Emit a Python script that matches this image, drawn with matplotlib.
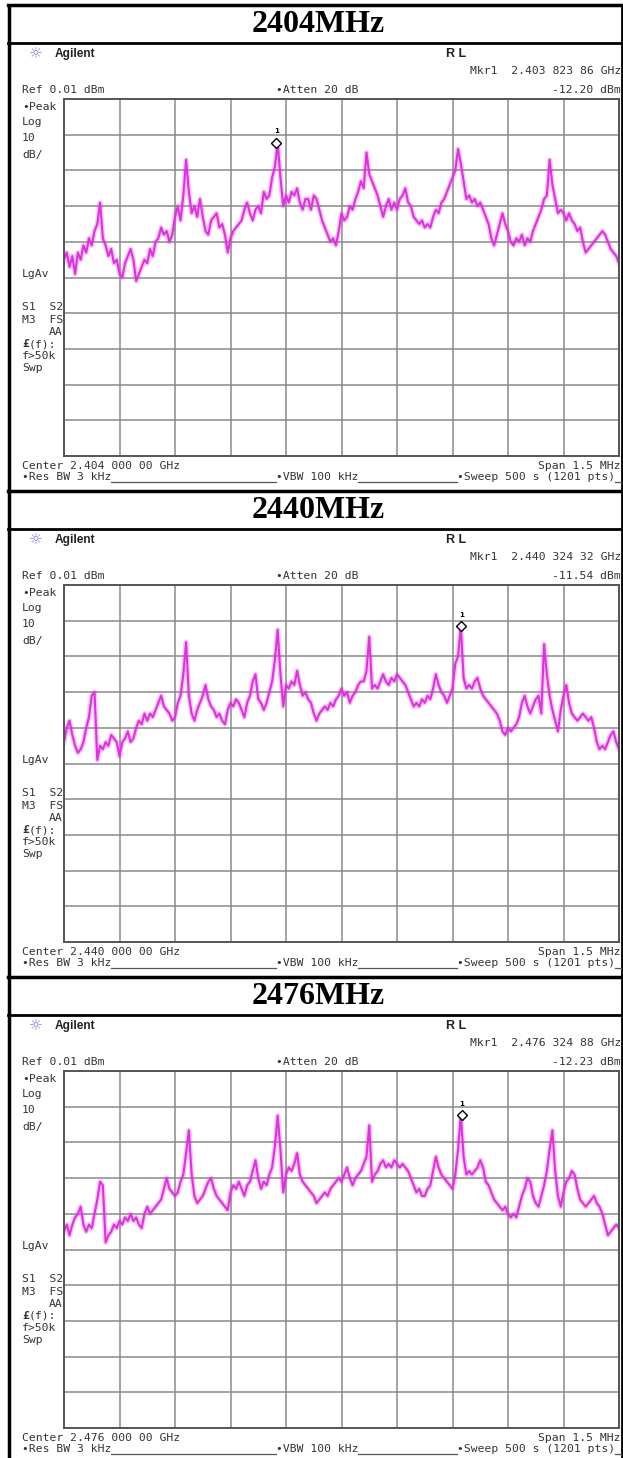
import numpy as np
import matplotlib.pyplot as plt

W, H = 623, 1458
DPI = 100

# three sweeps, one per channel
titles = ["2404MHz", "2440MHz", "2476MHz"]
center_ghz = [2.404, 2.440, 2.476]
mkr_freq_ghz = [2.40382386, 2.44032432, 2.47632488]
mkr_level_dbm = [-12.20, -11.54, -12.23]

ref_level = 0.01      # dBm, top graticule line
db_per_div = 10
span_khz = 1500

# 201 trace points across the span (offset from center, kHz)
freq_offset_khz = np.linspace(-span_khz / 2, span_khz / 2, 201)

trace_2404 = [
    -45, -43, -47, -44, -49, -43, -45, -41, -43, -39,
    -41, -37, -35, -29, -39, -41, -44, -42, -46, -45,
    -49, -50, -46, -44, -42, -45, -51, -49, -47, -45,
    -46, -42, -44, -40, -39, -36, -38, -37, -40, -38,
    -33, -30, -34, -27, -17, -26, -32, -30, -33, -28,
    -33, -37, -38, -34, -33, -32, -36, -35, -38, -43,
    -39, -37, -36, -35, -34, -31, -29, -32, -34, -31,
    -30, -32, -26, -28, -27, -22, -19, -12.2, -22, -30,
    -27, -29, -26, -27, -25, -29, -31, -28, -28, -31,
    -27, -28, -31, -34, -36, -38, -40, -39, -41, -37,
    -32, -34, -33, -30, -31, -28, -26, -23, -25, -15,
    -21, -23, -25, -27, -30, -33, -30, -28, -31, -29,
    -31, -28, -27, -25, -29, -30, -33, -34, -35, -34,
    -36, -35, -36, -33, -31, -32, -29, -28, -26, -24,
    -22, -20, -14, -18, -23, -28, -27, -29, -28, -30,
    -29, -31, -33, -35, -39, -41, -38, -35, -32, -35,
    -37, -40, -41, -39, -40, -38, -41, -39, -40, -37,
    -35, -33, -31, -28, -27, -17, -24, -28, -32, -31,
    -32, -34, -32, -34, -35, -37, -36, -40, -43, -42,
    -41, -40, -39, -38, -37, -38, -40, -42, -43, -44,
    -46]

trace_2440 = [
    -44, -40, -38, -42, -45, -47, -46, -44, -40, -37,
    -31, -30, -49, -45, -46, -44, -45, -42, -43, -44,
    -48, -44, -43, -41, -44, -43, -40, -38, -39, -36,
    -38, -36, -37, -35, -33, -31, -34, -35, -36, -38,
    -37, -33, -31, -25, -16, -31, -36, -38, -35, -33,
    -31, -28, -32, -34, -35, -37, -36, -38, -39, -35,
    -33, -34, -32, -33, -35, -37, -33, -31, -27, -25,
    -32, -33, -35, -33, -30, -27, -21, -12.5, -25, -34,
    -28, -29, -27, -28, -24, -28, -31, -30, -32, -33,
    -36, -38, -36, -35, -34, -35, -33, -34, -32, -31,
    -29, -31, -30, -33, -31, -30, -28, -27, -27, -24,
    -14.5, -29, -28, -29, -27, -25, -27, -28, -26, -27,
    -25, -26, -27, -28, -30, -32, -34, -33, -34, -32,
    -33, -31, -32, -29, -25, -28, -30, -31, -33, -31,
    -29, -22, -20, -11.54, -26, -29, -28, -29, -27, -26,
    -29, -31, -32, -33, -34, -35, -36, -38, -41, -42,
    -40, -41, -40, -39, -37, -33, -31, -34, -36, -34,
    -32, -31, -36, -16.6, -25, -31, -35, -38, -41, -35,
    -31, -28, -33, -36, -37, -38, -37, -36, -37, -38,
    -37, -40, -44, -46, -45, -46, -44, -42, -41, -44,
    -46]

trace_2476 = [
    -45, -43, -46, -43, -41, -40, -38, -43, -45, -43,
    -44, -40, -36, -31, -32, -48, -46, -45, -43, -44,
    -42, -43, -41, -42, -40, -42, -41, -43, -44, -40,
    -38, -40, -39, -38, -37, -36, -33, -30, -33, -34,
    -35, -34, -31, -29, -23, -16.6, -29, -35, -37, -36,
    -35, -33, -31, -30, -33, -35, -36, -37, -38, -39,
    -34, -32, -33, -31, -33, -35, -32, -31, -28, -25,
    -30, -33, -31, -32, -29, -27, -21, -12.5, -22, -34,
    -29, -27, -28, -26, -23, -29, -31, -32, -33, -34,
    -35, -37, -36, -35, -34, -35, -33, -32, -31, -30,
    -31, -29, -27, -30, -32, -30, -29, -28, -26, -24,
    -15.2, -31, -29, -28, -26, -25, -27, -26, -27, -25,
    -26, -27, -26, -27, -28, -30, -32, -34, -33, -35,
    -35, -33, -32, -28, -24, -27, -29, -30, -31, -32,
    -33, -29, -22, -12.23, -24, -29, -28, -29, -28, -27,
    -25, -27, -31, -32, -34, -36, -37, -38, -39, -38,
    -40, -41, -40, -41, -38, -35, -33, -30, -31, -35,
    -37, -38, -35, -32, -28, -22, -16.6, -28, -35, -38,
    -34, -31, -30, -28, -29, -33, -36, -37, -38, -37,
    -36, -35, -37, -38, -40, -43, -46, -45, -44, -43,
    -44]

traces = [trace_2404, trace_2440, trace_2476]

MONO = "DejaVu Sans Mono"
TXT = "#333333"
TRACE = "#e030e0"
FS = 8.2


def fmt_ghz(f):
    s = f"{f:.8f}"
    return f"{s[:5]} {s[5:8]} {s[8:]} GHz"


fig = plt.figure(figsize=(W / DPI, H / DPI), dpi=DPI, facecolor="white")

# pixel-space layer for borders and screen annotations
bg = fig.add_axes([0, 0, 1, 1])
bg.set_xlim(0, W)
bg.set_ylim(H, 0)
bg.axis("off")


def txt(x, y, s, ha="left", size=FS, **kw):
    kw.setdefault("family", MONO)
    kw.setdefault("color", TXT)
    bg.text(x, y, s, ha=ha, va="center", fontsize=size, **kw)


panel_top = [5, 491, 977]
gx0, gx1 = 64, 619
CW = 6.84   # mono character width in px

# outer table frame
bg.plot([9, 9], [panel_top[0], H], color="black", lw=2.5, solid_capstyle="butt")
bg.plot([622, 622], [panel_top[0], H], color="black", lw=2.0, solid_capstyle="butt")

for p, T in enumerate(panel_top):
    bg.plot([8, 623], [T, T], color="black", lw=2.5)
    bg.plot([8, 623], [T + 38, T + 38], color="black", lw=2.0)
    bg.text(318, T + 19, titles[p], ha="center", va="center", fontsize=23,
            family="Liberation Serif", weight="bold", color="black")

    # instrument header
    bg.text(36, T + 49, "\u263c", ha="center", va="center", fontsize=11,
            family="DejaVu Sans", color="#7b7be0")
    bg.text(55, T + 49, "Agilent", ha="left", va="center", fontsize=8.6,
            family="Liberation Sans", weight="bold", color="#222222")
    bg.text(446, T + 49, "R L", ha="left", va="center", fontsize=9,
            family="Liberation Sans", weight="bold", color="#222222")
    txt(621, T + 66, "Mkr1  " + fmt_ghz(mkr_freq_ghz[p]), ha="right")
    txt(22, T + 85, f"Ref {ref_level:.2f} dBm")
    txt(276, T + 85, "\u2022Atten 20 dB")
    txt(621, T + 85, f"{mkr_level_dbm[p]:.2f} dBm", ha="right")

    # left annotation column
    side = [("\u2022Peak", 102), ("Log", 117), ("10", 133), ("dB/", 150),
            ("LgAv", 269), ("S1  S2", 302), ("M3  FS", 315),
            ("f>50k", 351), ("Swp", 363)]
    for s, dy in side:
        txt(22, T + dy, s)
    txt(63, T + 327, "AA", ha="right")
    txt(22, T + 339, "\u00a3", weight="bold")
    txt(22 + CW, T + 339, "(f):")

    # footer
    txt(22, T + 461, "Center " + fmt_ghz(center_ghz[p]))
    txt(621, T + 461, f"Span {span_khz / 1000:.1f} MHz", ha="right")
    txt(22, T + 472, "\u2022Res BW 3 kHz")
    txt(276, T + 472, "\u2022VBW 100 kHz")
    txt(615, T + 472, "\u2022Sweep 500 s (1201 pts)", ha="right")
    for xa, xb in [(22 + 13 * CW, 276), (276 + 12 * CW, 457), (615, 621)]:
        bg.plot([xa, xb], [T + 477, T + 477], color="#555555", lw=0.9)

    # graticule + trace
    gy0, gy1 = T + 94, T + 451
    ax = fig.add_axes([gx0 / W, 1 - gy1 / H, (gx1 - gx0) / W, (gy1 - gy0) / H])
    ax.set_facecolor("none")
    ax.set_xlim(-span_khz / 2, span_khz / 2)
    ax.set_ylim(ref_level - 10 * db_per_div, ref_level)
    ax.set_xticks(np.linspace(-span_khz / 2, span_khz / 2, 11))
    ax.set_yticks(ref_level - db_per_div * np.arange(11))
    ax.tick_params(length=0, labelbottom=False, labelleft=False)
    ax.grid(True, color="#8a8a8a", lw=1.1)
    for sp in ax.spines.values():
        sp.set_color("#555555")
        sp.set_linewidth(1.4)

    ax.plot(freq_offset_khz, traces[p], color=TRACE, lw=3.6, alpha=0.28)
    ax.plot(freq_offset_khz, traces[p], color=TRACE, lw=1.5)

    mx = (mkr_freq_ghz[p] - center_ghz[p]) * 1e6
    my = mkr_level_dbm[p]
    ax.plot(mx, my, marker="D", ms=5.5, mfc="white", mec="black", mew=1.0,
            clip_on=False, zorder=5)
    ax.annotate("1", (mx, my), xytext=(0, 8), textcoords="offset points",
                ha="center", va="center", fontsize=5, weight="bold",
                color="black")

fig.savefig("out.png", dpi=DPI, facecolor="white")
